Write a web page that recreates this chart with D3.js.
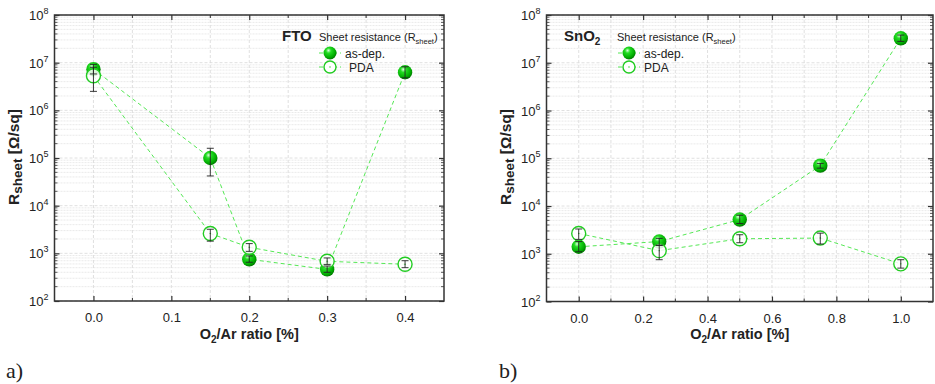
<!DOCTYPE html>
<html><head><meta charset="utf-8">
<script src="https://cdn.jsdelivr.net/npm/d3@7"></script>
<style>body{margin:0;background:#fff}svg{display:block}text{font-family:"Liberation Sans",Arial,sans-serif}</style>
</head><body><svg id="c" width="935" height="384"></svg>
<script>
// ---- data ----
const ftoX = [0.0, 0.15, 0.2, 0.3, 0.4];
const ftoAsDep = [7.3e6, 1.0e5, 750, 460, 6.3e6];
const ftoAsDepLo = [5.8e6, 4.2e4, 650, 400, 4.8e6];
const ftoAsDepHi = [9.2e6, 1.6e5, 880, 540, 8.2e6];
const ftoPDA = [5.3e6, 2.6e3, 1.34e3, 680, 590];
const ftoPDALo = [2.5e6, 1.8e3, 1.1e3, 580, 500];
const ftoPDAHi = [8.0e6, 3.2e3, 1.6e3, 800, 700];

const snoX = [0.0, 0.25, 0.5, 0.75, 1.0];
const snoAsDep = [1.4e3, 1.8e3, 5.2e3, 7.0e4, 3.25e7];
const snoAsDepLo = [1.1e3, 1.5e3, 4.3e3, 6.2e4, 2.8e7];
const snoAsDepHi = [1.8e3, 2.1e3, 6.4e3, 7.8e4, 3.8e7];
const snoPDA = [2.66e3, 1.16e3, 2.06e3, 2.13e3, 615];
const snoPDALo = [2.0e3, 750, 1.7e3, 1.6e3, 500];
const snoPDAHi = [3.3e3, 1.5e3, 2.5e3, 2.7e3, 750];

const yTickExps = [2, 3, 4, 5, 6, 7, 8];
const ftoXTicks = ["0.0", "0.1", "0.2", "0.3", "0.4"];
const snoXTicks = ["0.0", "0.2", "0.4", "0.6", "0.8", "1.0"];
const legendLabels = ["as-dep.", "PDA"];

const svg = d3.select("#c");
const defs = svg.append("defs");
const grad = defs.append("radialGradient").attr("id","ball").attr("cx","0.4").attr("cy","0.35").attr("r","0.65").attr("fx","0.38").attr("fy","0.3");
grad.append("stop").attr("offset","0").attr("stop-color","#d8ffd8");
grad.append("stop").attr("offset","0.3").attr("stop-color","#22dd22");
grad.append("stop").attr("offset","0.8").attr("stop-color","#00aa00");
grad.append("stop").attr("offset","1").attr("stop-color","#007a00");

const GREEN = "#22cc22";
const LINE = "#55e855";

function panel(o){
  const g = svg.append("g");
  const x = d3.scaleLinear().domain(o.xDomain).range([o.left, o.right]);
  const y = d3.scaleLog().domain([1e2, 1e8]).range([o.bottom, o.top]);
  // grid
  const minorY = [];
  for(let e=2;e<8;e++) for(let m=2;m<10;m++) minorY.push(m*Math.pow(10,e));
  g.append("g").selectAll("line").data(minorY).join("line")
    .attr("x1",o.left).attr("x2",o.right).attr("y1",d=>y(d)).attr("y2",d=>y(d))
    .attr("stroke","#e4e4e4").attr("stroke-width",0.8).attr("stroke-dasharray","2,1");
  g.append("g").selectAll("line").data(yTickExps).join("line")
    .attr("x1",o.left).attr("x2",o.right).attr("y1",d=>y(Math.pow(10,d))).attr("y2",d=>y(Math.pow(10,d)))
    .attr("stroke","#d8d8d8").attr("stroke-width",0.8).attr("stroke-dasharray","3,2");
  const gridX = d3.range(Math.round(o.xDomain[0]/o.minorStep)+1, Math.round(o.xDomain[1]/o.minorStep)).map(i=>i*o.minorStep);
  g.append("g").selectAll("line").data(gridX).join("line")
    .attr("x1",d=>x(d)).attr("x2",d=>x(d)).attr("y1",o.top).attr("y2",o.bottom)
    .attr("stroke","#d8d8d8").attr("stroke-width",0.8).attr("stroke-dasharray","3,2");

  // axes (inward ticks)
  const xMajor = o.xTicks.map(Number);
  const xAxisB = d3.axisBottom(x).tickValues(xMajor).tickSize(-5).tickPadding(12).tickFormat((d,i)=>o.xTicks[i]);
  const gb = g.append("g").attr("transform",`translate(0,${o.bottom})`).call(xAxisB);
  gb.select(".domain").remove();
  gb.selectAll("text").attr("font-size",13).attr("fill","#222");
  gb.selectAll("line").attr("stroke","#333").attr("stroke-width",1.2);
  const xt = g.append("g").attr("transform",`translate(0,${o.top})`).call(d3.axisTop(x).tickValues(xMajor).tickSize(-5).tickFormat(""));
  xt.select(".domain").remove(); xt.selectAll("line").attr("stroke","#333").attr("stroke-width",1.2);
  const minorXT = gridX.filter(v=>!xMajor.some(m=>Math.abs(m-v)<1e-9));
  [o.bottom, o.top].forEach((yy,k)=>{
    g.append("g").selectAll("line").data(minorXT).join("line")
      .attr("x1",d=>x(d)).attr("x2",d=>x(d)).attr("y1",yy).attr("y2",k===0?yy-3:yy+3)
      .attr("stroke","#333").attr("stroke-width",1);
  });
  const yMajor = yTickExps.map(e=>Math.pow(10,e));
  const yl = g.append("g").attr("transform",`translate(${o.left},0)`).call(d3.axisLeft(y).tickValues(yMajor).tickSize(-5).tickFormat(""));
  yl.select(".domain").remove(); yl.selectAll("line").attr("stroke","#333").attr("stroke-width",1.2);
  const yr = g.append("g").attr("transform",`translate(${o.right},0)`).call(d3.axisRight(y).tickValues(yMajor).tickSize(-5).tickFormat(""));
  yr.select(".domain").remove(); yr.selectAll("line").attr("stroke","#333").attr("stroke-width",1.2);
  [o.left,o.right].forEach((xx,k)=>{
    g.append("g").selectAll("line").data(minorY).join("line")
      .attr("y1",d=>y(d)).attr("y2",d=>y(d)).attr("x1",xx).attr("x2",k===0?xx+3:xx-3)
      .attr("stroke","#333").attr("stroke-width",0.8);
  });
  // y tick labels 10^n
  const ylab = g.append("g").selectAll("text").data(yTickExps).join("text")
    .attr("x",o.left-6).attr("y",d=>y(Math.pow(10,d))+5).attr("text-anchor","end").attr("font-size",13).attr("fill","#222");
  ylab.append("tspan").text("10");
  ylab.append("tspan").attr("dy",-6).attr("font-size",9).text(d=>d);

  // frame
  g.append("rect").attr("x",o.left).attr("y",o.top).attr("width",o.right-o.left).attr("height",o.bottom-o.top)
    .attr("fill","none").attr("stroke","#333").attr("stroke-width",1.5);

  // lines
  const line = d3.line().x(d=>x(d[0])).y(d=>y(d[1]));
  [o.asdep, o.pda].forEach(vals=>{
    g.append("path").datum(o.xs.map((v,i)=>[v,vals[i]])).attr("d",line)
      .attr("fill","none").attr("stroke",LINE).attr("stroke-width",1).attr("stroke-dasharray","4,3");
  });
  // markers
  g.append("g").selectAll("circle").data(o.xs.map((v,i)=>[v,o.asdep[i]])).join("circle")
    .attr("cx",d=>x(d[0])).attr("cy",d=>y(d[1])).attr("r",7.2).attr("fill","url(#ball)");
  g.append("g").selectAll("circle").data(o.xs.map((v,i)=>[v,o.pda[i]])).join("circle")
    .attr("cx",d=>x(d[0])).attr("cy",d=>y(d[1])).attr("r",7).attr("fill","#fff").attr("fill-opacity",0.85).attr("stroke",GREEN).attr("stroke-width",1.4);
  g.append("g").selectAll("circle").data(o.xs.map((v,i)=>[v,o.pda[i]])).join("circle")
    .attr("cx",d=>x(d[0])).attr("cy",d=>y(d[1])).attr("r",0.7).attr("fill",GREEN);
  // error bars
  const eb = (lo,hi)=>{
    const gg = g.append("g").attr("stroke","#222").attr("stroke-width",0.9);
    o.xs.forEach((v,i)=>{
      const cx = x(v);
      gg.append("line").attr("x1",cx).attr("x2",cx).attr("y1",y(lo[i])).attr("y2",y(hi[i]));
      gg.append("line").attr("x1",cx-3.5).attr("x2",cx+3.5).attr("y1",y(lo[i])).attr("y2",y(lo[i]));
      gg.append("line").attr("x1",cx-3.5).attr("x2",cx+3.5).attr("y1",y(hi[i])).attr("y2",y(hi[i]));
    });
  };
  eb(o.asdepLo,o.asdepHi); eb(o.pdaLo,o.pdaHi);

  // axis titles
  const xtT = g.append("text").attr("x",(o.left+o.right)/2+o.xTitleShift).attr("y",339).attr("text-anchor","middle")
    .attr("font-size",14.5).attr("font-weight","bold").attr("fill","#222");
  xtT.append("tspan").text("O");
  xtT.append("tspan").attr("dy",4).attr("font-size",10).text("2");
  xtT.append("tspan").attr("dy",-4).text("/Ar ratio [%]");
  const ytT = g.append("text").attr("transform",`translate(${o.yTitleX},${o.yTitleY}) rotate(-90)`).attr("text-anchor","middle")
    .attr("font-size",15.5).attr("font-weight","bold").attr("fill","#222");
  ytT.append("tspan").text("R");
  ytT.append("tspan").attr("dy",3).attr("font-size",13.5).text("sheet");
  ytT.append("tspan").attr("dy",-3).text(" [\u03A9/sq]");

  // legend
  const L = o.leg;
  const t1 = g.append("text").attr("x",L.titleX).attr("y",L.y).attr("font-size",15).attr("font-weight","bold").attr("fill","#222");
  t1.append("tspan").text(o.name);
  if(o.sub){ t1.append("tspan").attr("dy",4).attr("font-size",10).text(o.sub); }
  const t2 = g.append("text").attr("x",L.sheetX).attr("y",L.y).attr("font-size",11).attr("fill","#222");
  t2.append("tspan").text("Sheet resistance (R");
  t2.append("tspan").attr("dy",3).attr("font-size",7.5).text("sheet");
  t2.append("tspan").attr("dy",-3).text(")");
  [0,1].forEach(k=>{
    const yy = L.y+12+k*14;
    g.append("line").attr("x1",L.mx-11).attr("x2",L.mx+11).attr("y1",yy).attr("y2",yy)
      .attr("stroke",LINE).attr("stroke-width",1).attr("stroke-dasharray","4,3");
    if(k===0) g.append("circle").attr("cx",L.mx).attr("cy",yy).attr("r",6.5).attr("fill","url(#ball)");
    else { g.append("circle").attr("cx",L.mx).attr("cy",yy).attr("r",6).attr("fill","#fff").attr("stroke",GREEN).attr("stroke-width",1.4);
           g.append("circle").attr("cx",L.mx).attr("cy",yy).attr("r",0.7).attr("fill",GREEN); }
    g.append("text").attr("x",L.mx+15+(k===1?L.pdaShift:0)).attr("y",yy+4.5).attr("font-size",12).attr("fill","#222").text(legendLabels[k]);
  });

  // panel label
  svg.append("text").attr("x",o.labX).attr("y",378)
    .style("font-family","'Liberation Serif','DejaVu Serif',serif")
    .attr("font-size",22).attr("fill","#222").text(o.lab);
}

panel({xDomain:[-0.05,0.45], left:54.5, right:444, top:15, bottom:301, minorStep:0.05,
  xTicks:ftoXTicks, xs:ftoX, asdep:ftoAsDep, asdepLo:ftoAsDepLo, asdepHi:ftoAsDepHi,
  pda:ftoPDA, pdaLo:ftoPDALo, pdaHi:ftoPDAHi, name:"FTO", sub:null,
  xTitleShift:0, yTitleX:19, yTitleY:157,
  leg:{titleX:282, sheetX:319, y:41, mx:330, pdaShift:4}, lab:"a)", labX:6});

panel({xDomain:[-0.1,1.1], left:546.5, right:933, top:15, bottom:301.5, minorStep:0.1,
  xTicks:snoXTicks, xs:snoX, asdep:snoAsDep, asdepLo:snoAsDepLo, asdepHi:snoAsDepHi,
  pda:snoPDA, pdaLo:snoPDALo, pdaHi:snoPDAHi, name:"SnO", sub:"2",
  xTitleShift:0, yTitleX:511, yTitleY:157,
  leg:{titleX:564, sheetX:617, y:41, mx:629, pdaShift:0}, lab:"b)", labX:499});
</script></body></html>
